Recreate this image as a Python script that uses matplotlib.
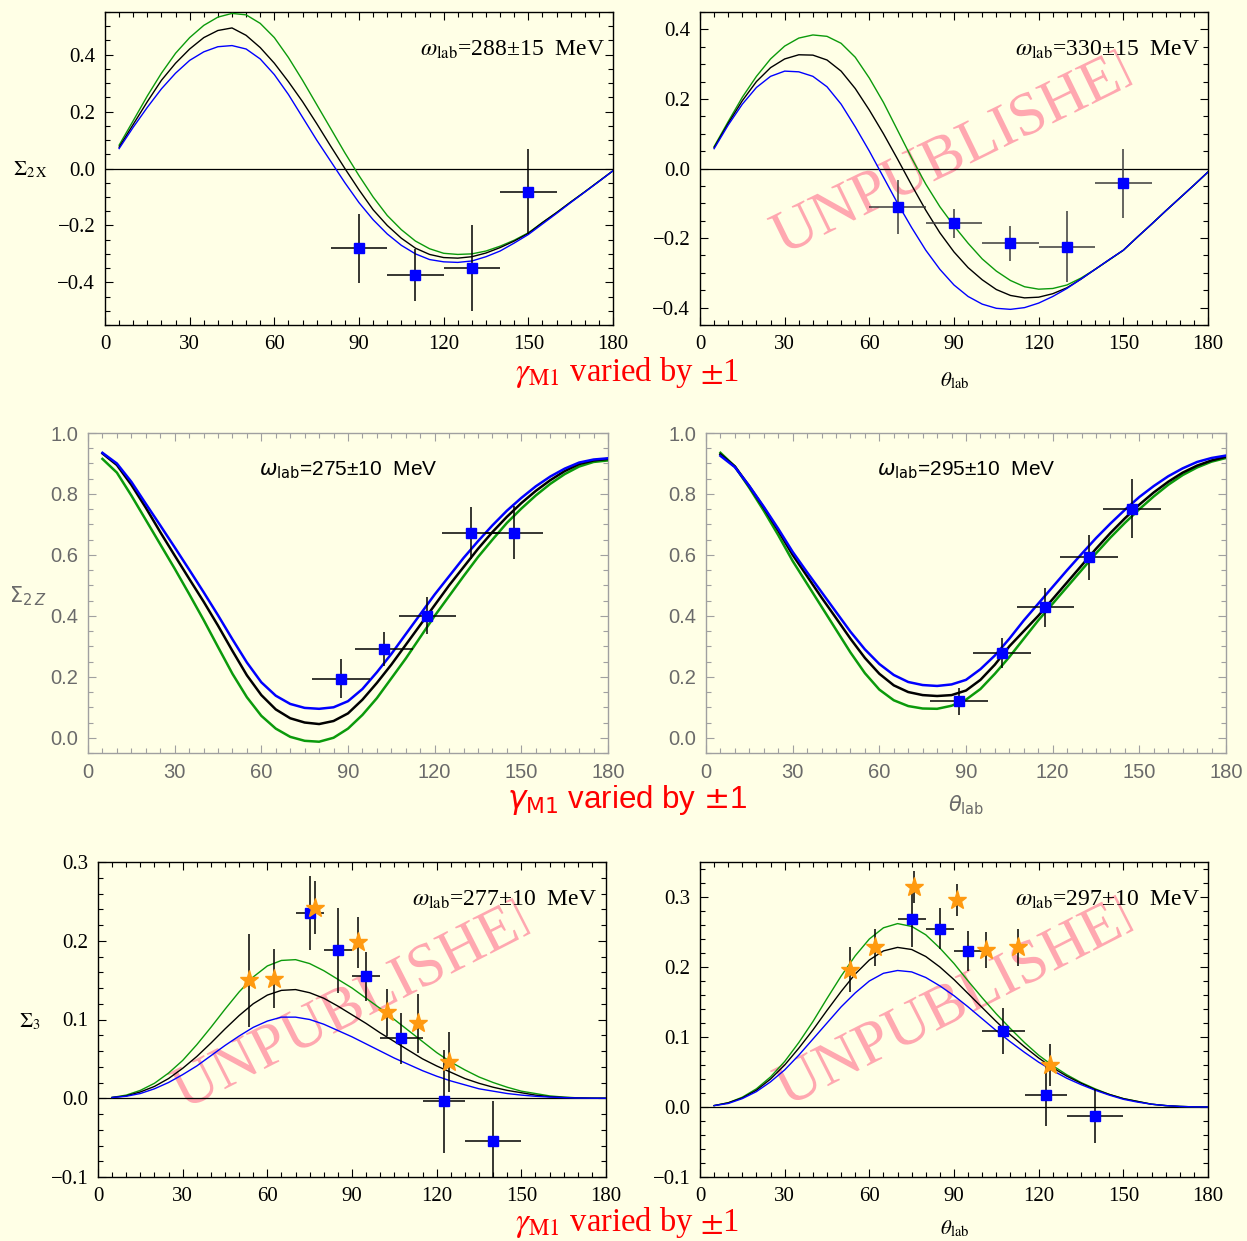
import matplotlib
matplotlib.use('Agg')
import matplotlib.pyplot as plt
from matplotlib.patches import Polygon, PathPatch
from matplotlib.transforms import IdentityTransform, Affine2D
from matplotlib.textpath import TextPath
from matplotlib.font_manager import FontProperties
from matplotlib.ticker import MultipleLocator, FixedLocator
import numpy as np

W, H = 1247, 1241
BG = '#FFFFE6'
GREEN = '#0B9A0B'
BLUE = '#0000FF'
STAR = '#FF9A10'
WM = '#FFA8B0'

theta = [5, 10, 15, 20, 25, 30, 35, 40, 45, 50, 55, 60, 65, 70, 75, 80, 85, 90,
         95, 100, 105, 110, 115, 120, 125, 130, 135, 140, 145, 150, 155, 160, 165, 170, 175, 180]

# ---------------- panel 1 : Sigma_2x, 288 MeV ----------------
p1_black = [0.075, 0.155, 0.235, 0.31, 0.37, 0.42, 0.46, 0.485, 0.494, 0.468, 0.425, 0.37, 0.305, 0.235,
            0.158, 0.078, 0.0, -0.075, -0.145, -0.2, -0.245, -0.28, -0.302, -0.313, -0.315, -0.31, -0.297,
            -0.278, -0.255, -0.228, -0.19, -0.155, -0.118, -0.082, -0.045, -0.008]
p1_green = [0.082, 0.168, 0.255, 0.335, 0.405, 0.46, 0.503, 0.532, 0.545, 0.54, 0.51, 0.46, 0.39, 0.31,
            0.225, 0.14, 0.055, -0.025, -0.1, -0.165, -0.215, -0.255, -0.282, -0.298, -0.302, -0.3, -0.29,
            -0.273, -0.252, -0.226, -0.19, -0.155, -0.118, -0.082, -0.045, -0.008]
p1_blue = [0.07, 0.145, 0.215, 0.28, 0.335, 0.38, 0.41, 0.428, 0.432, 0.42, 0.385, 0.33, 0.26, 0.18,
           0.1, 0.025, -0.05, -0.12, -0.18, -0.23, -0.27, -0.3, -0.32, -0.328, -0.33, -0.325, -0.31,
           -0.29, -0.262, -0.232, -0.195, -0.158, -0.12, -0.083, -0.046, -0.008]
p1_x = [90, 110, 130, 150]
p1_y = [-0.281, -0.375, -0.350, -0.082]
p1_yerr = [0.122, 0.092, 0.152, 0.149]
p1_xerr = [10, 10, 10, 10]

# ---------------- panel 2 : Sigma_2x, 330 MeV ----------------
p2_black = [0.06, 0.13, 0.195, 0.25, 0.29, 0.315, 0.327, 0.326, 0.312, 0.28, 0.23, 0.168, 0.1, 0.027,
            -0.048, -0.12, -0.185, -0.24, -0.285, -0.32, -0.348, -0.365, -0.372, -0.37, -0.36, -0.343,
            -0.318, -0.29, -0.262, -0.235, -0.197, -0.16, -0.122, -0.085, -0.048, -0.01]
p2_green = [0.063, 0.135, 0.205, 0.265, 0.315, 0.352, 0.375, 0.384, 0.38, 0.36, 0.32, 0.26, 0.19, 0.11,
            0.03, -0.045, -0.11, -0.165, -0.215, -0.26, -0.295, -0.322, -0.34, -0.347, -0.345, -0.335,
            -0.315, -0.29, -0.263, -0.235, -0.197, -0.16, -0.122, -0.085, -0.048, -0.01]
p2_blue = [0.057, 0.125, 0.185, 0.233, 0.265, 0.28, 0.278, 0.265, 0.235, 0.185, 0.12, 0.05, -0.025, -0.1,
           -0.17, -0.235, -0.29, -0.335, -0.368, -0.39, -0.402, -0.405, -0.4, -0.387, -0.368, -0.345,
           -0.318, -0.29, -0.262, -0.235, -0.197, -0.16, -0.122, -0.085, -0.048, -0.01]
p2_x = [70, 90, 110, 130, 150]
p2_y = [-0.110, -0.158, -0.215, -0.225, -0.043]
p2_yerr = [0.077, 0.041, 0.051, 0.102, 0.100]
p2_xerr = [10, 10, 10, 10, 10]

# ---------------- panel 3 : Sigma_2z, 275 MeV ----------------
p3_black = [0.933, 0.895, 0.83, 0.755, 0.675, 0.598, 0.522, 0.447, 0.368, 0.285, 0.205, 0.14, 0.093, 0.064,
            0.05, 0.045, 0.055, 0.08, 0.125, 0.18, 0.24, 0.305, 0.37, 0.435, 0.5, 0.56, 0.62, 0.675,
            0.725, 0.77, 0.81, 0.845, 0.875, 0.898, 0.91, 0.915]
p3_green = [0.915, 0.87, 0.795, 0.715, 0.635, 0.555, 0.472, 0.387, 0.298, 0.21, 0.133, 0.072, 0.03, 0.003,
            -0.01, -0.013, 0.0, 0.03, 0.075, 0.13, 0.195, 0.26, 0.33, 0.4, 0.465, 0.53, 0.593, 0.65,
            0.705, 0.752, 0.795, 0.833, 0.865, 0.89, 0.905, 0.91]
p3_blue = [0.935, 0.9, 0.84, 0.768, 0.697, 0.625, 0.552, 0.478, 0.402, 0.323, 0.247, 0.182, 0.138, 0.111,
           0.098, 0.095, 0.1, 0.12, 0.16, 0.215, 0.275, 0.34, 0.405, 0.47, 0.53, 0.59, 0.645, 0.697,
           0.745, 0.787, 0.825, 0.857, 0.883, 0.903, 0.913, 0.917]
p3_x = [87.5, 102.5, 117.5, 132.5, 147.5]
p3_y = [0.194, 0.292, 0.401, 0.672, 0.672]
p3_yerr = [0.063, 0.055, 0.062, 0.086, 0.087]
p3_xerr = [10, 10, 10, 10, 10]

# ---------------- panel 4 : Sigma_2z, 295 MeV ----------------
p4_black = [0.93, 0.89, 0.825, 0.755, 0.68, 0.6, 0.53, 0.46, 0.393, 0.325, 0.262, 0.21, 0.172, 0.15,
            0.14, 0.137, 0.14, 0.155, 0.19, 0.24, 0.3, 0.35, 0.4, 0.455, 0.51, 0.565, 0.62, 0.672,
            0.72, 0.765, 0.805, 0.84, 0.87, 0.893, 0.91, 0.922]
p4_green = [0.935, 0.89, 0.82, 0.745, 0.665, 0.58, 0.505, 0.43, 0.355, 0.28, 0.212, 0.158, 0.123, 0.104,
            0.096, 0.095, 0.105, 0.125, 0.16, 0.21, 0.265, 0.325, 0.385, 0.44, 0.495, 0.55, 0.605, 0.657,
            0.705, 0.75, 0.792, 0.83, 0.862, 0.887, 0.906, 0.918]
p4_blue = [0.925, 0.888, 0.826, 0.758, 0.686, 0.61, 0.543, 0.478, 0.413, 0.348, 0.29, 0.242, 0.206, 0.183,
           0.173, 0.17, 0.175, 0.19, 0.225, 0.27, 0.325, 0.385, 0.44, 0.495, 0.55, 0.603, 0.655, 0.703,
           0.748, 0.79, 0.826, 0.858, 0.884, 0.905, 0.918, 0.926]
p4_x = [87.5, 102.5, 117.5, 132.5, 147.5]
p4_y = [0.120, 0.278, 0.428, 0.592, 0.752]
p4_yerr = [0.044, 0.049, 0.063, 0.074, 0.098]
p4_xerr = [10, 10, 10, 10, 10]

# ---------------- panel 5 : Sigma_3, 277 MeV ----------------
p5_black = [0.001, 0.003, 0.008, 0.015, 0.025, 0.038, 0.053, 0.07, 0.088, 0.105, 0.12, 0.131, 0.137, 0.138,
            0.134, 0.127, 0.117, 0.106, 0.095, 0.083, 0.072, 0.061, 0.05, 0.041, 0.033, 0.025, 0.019,
            0.014, 0.01, 0.007, 0.004, 0.002, 0.001, 0.0004, 0.0001, 0.0]
p5_green = [0.001, 0.004, 0.01, 0.019, 0.032, 0.048, 0.068, 0.09, 0.113, 0.135, 0.154, 0.168, 0.175, 0.176,
            0.171, 0.162, 0.151, 0.14, 0.127, 0.114, 0.1, 0.086, 0.072, 0.058, 0.046, 0.036, 0.027,
            0.02, 0.014, 0.009, 0.006, 0.003, 0.0015, 0.0005, 0.0001, 0.0]
p5_blue = [0.001, 0.0025, 0.006, 0.012, 0.02, 0.03, 0.041, 0.054, 0.067, 0.079, 0.09, 0.098, 0.103, 0.103,
           0.1, 0.094, 0.086, 0.078, 0.069, 0.06, 0.051, 0.043, 0.035, 0.028, 0.022, 0.017, 0.012,
           0.009, 0.006, 0.004, 0.0025, 0.0015, 0.0008, 0.0003, 0.0001, 0.0]
p5_x = [75, 85, 95, 107.5, 122.5, 140]
p5_y = [0.235, 0.188, 0.155, 0.076, -0.004, -0.054]
p5_yerr = [0.047, 0.054, 0.031, 0.032, 0.065, 0.050]
p5_xerr = [5, 5, 5, 7.5, 7.5, 10]
p5_sx = [53.5, 62.5, 77, 92, 102.5, 113.5, 124.5]
p5_sy = [0.150, 0.152, 0.242, 0.198, 0.109, 0.095, 0.046]
p5_syerr = [0.059, 0.038, 0.034, 0.032, 0.030, 0.037, 0.038]

# ---------------- panel 6 : Sigma_3, 297 MeV ----------------
p6_black = [0.002, 0.006, 0.013, 0.024, 0.04, 0.06, 0.084, 0.11, 0.138, 0.165, 0.19, 0.21, 0.223, 0.228,
            0.225, 0.215, 0.2, 0.182, 0.162, 0.142, 0.122, 0.103, 0.086, 0.07, 0.056, 0.044, 0.034,
            0.025, 0.018, 0.012, 0.008, 0.004, 0.002, 0.0008, 0.0002, 0.0]
p6_green = [0.002, 0.006, 0.014, 0.026, 0.043, 0.065, 0.092, 0.122, 0.155, 0.187, 0.216, 0.24, 0.256, 0.262,
            0.258, 0.246, 0.227, 0.205, 0.18, 0.156, 0.133, 0.112, 0.092, 0.074, 0.059, 0.046, 0.035,
            0.026, 0.018, 0.012, 0.008, 0.004, 0.002, 0.0008, 0.0002, 0.0]
p6_blue = [0.002, 0.005, 0.012, 0.022, 0.036, 0.053, 0.074, 0.097, 0.12, 0.143, 0.163, 0.18, 0.191, 0.195,
           0.193, 0.185, 0.173, 0.159, 0.143, 0.126, 0.109, 0.093, 0.078, 0.064, 0.052, 0.041, 0.032,
           0.024, 0.017, 0.011, 0.007, 0.004, 0.002, 0.0008, 0.0002, 0.0]
p6_x = [75, 85, 95, 107.5, 122.5, 140]
p6_y = [0.269, 0.255, 0.223, 0.109, 0.017, -0.013]
p6_yerr = [0.040, 0.029, 0.028, 0.033, 0.044, 0.039]
p6_xerr = [5, 5, 5, 7.5, 7.5, 10]
p6_sx = [53, 62, 76, 91, 101.5, 112.5, 124]
p6_sy = [0.196, 0.228, 0.314, 0.296, 0.224, 0.228, 0.060]
p6_syerr = [0.032, 0.026, 0.023, 0.023, 0.026, 0.026, 0.030]

x_ticks = [0, 30, 60, 90, 120, 150, 180]
energies = ['288\u00b115', '330\u00b115', '275\u00b110', '295\u00b110', '277\u00b110', '297\u00b110']

SERIF = 'Liberation Serif'
SANS = 'Liberation Sans'

fig = plt.figure(figsize=(W / 100, H / 100), dpi=100)
fig.patch.set_facecolor(BG)


def make_axes(px_left, px_top, px_right, px_bottom):
    return fig.add_axes([px_left / W, 1 - px_bottom / H, (px_right - px_left) / W, (px_bottom - px_top) / H])


def fmt(v):
    s = '%.1f' % v
    if s.startswith('-'):
        s = '\u2212' + s[1:]
    return s


def style(ax, sans, ylim, yticks, yminor):
    ax.set_facecolor(BG)
    ax.set_xlim(0, 180)
    ax.set_ylim(*ylim)
    ax.xaxis.set_major_locator(FixedLocator(x_ticks))
    ax.xaxis.set_minor_locator(MultipleLocator(5))
    ax.yaxis.set_major_locator(FixedLocator(yticks))
    ax.yaxis.set_minor_locator(MultipleLocator(yminor))
    ax.set_xticklabels([str(t) for t in x_ticks])
    ax.set_yticklabels([fmt(t) for t in yticks])
    fc = '#6a6a6a' if sans else 'black'
    ec = '#a0a0a0' if sans else 'black'
    fam = SANS if sans else SERIF
    ax.tick_params(which='both', direction='in', top=True, right=True, color=ec, labelcolor=fc,
                   labelsize=14.5 if sans else 15, width=0.8)
    ax.tick_params(which='major', length=6, pad=7)
    ax.tick_params(which='minor', length=3.5)
    for lab in ax.get_xticklabels() + ax.get_yticklabels():
        lab.set_family(fam)
    for sp in ax.spines.values():
        sp.set_color(ec)
        sp.set_linewidth(1.0)


def draw_curves(ax, g, k, b, lw):
    for ys, c in ((g, GREEN), (k, 'black'), (b, BLUE)):
        ax.plot(theta, ys, color=c, lw=lw, zorder=3, solid_joinstyle='round')


def draw_data(ax, x, y, xerr, yerr, ms=7.5, ecol='black'):
    ax.errorbar(x, y, xerr=xerr, yerr=yerr, fmt='none', ecolor=ecol, elinewidth=1.1, capsize=0, zorder=4)
    ax.plot(x, y, 's', color=BLUE, ms=ms, zorder=5)


def draw_stars(ax, x, y, yerr):
    ax.errorbar(x, y, yerr=yerr, fmt='none', ecolor='black', elinewidth=1.1, capsize=0, zorder=4)
    ax.plot(x, y, '*', color=STAR, ms=14, mec=STAR, zorder=6)


WM_FONT = FontProperties(family=SERIF)


def watermark(ax, sx, sy, ang, L=389, size=61):
    a = np.deg2rad(ang)
    x0, y0 = sx, H - sy
    d = np.array([np.cos(a), np.sin(a)])
    n = np.array([-np.sin(a), np.cos(a)])
    s = np.array([x0, y0])
    poly = np.array([s - 30 * d - 120 * n, s + L * d - 120 * n, s + L * d + 120 * n, s - 30 * d + 120 * n])
    clip = Polygon(poly, closed=True, transform=IdentityTransform())
    tp = TextPath((0, 0), 'UNPUBLISHED', size=size, prop=WM_FONT)
    tr = Affine2D().rotate_deg(ang).translate(x0, y0)
    patch = PathPatch(tp, transform=tr, facecolor=WM, edgecolor='none', zorder=1)
    ax.add_artist(patch)
    patch.set_clip_path(clip)


def omega_text(x, y, e, sans, ha='right'):
    if sans:
        fig.text(x / W, 1 - y / H, r'$\omega_{\mathrm{lab}}$=' + e + '  MeV', family=SANS, fontsize=15,
                 math_fontfamily='dejavusans', ha=ha, va='center', color='black')
    else:
        fig.text(x / W, 1 - y / H, r'$\omega_{\mathrm{lab}}$=' + e + '  MeV', family=SERIF, fontsize=17,
                 math_fontfamily='stix', ha=ha, va='center', color='black')


# ---------- row 1 ----------
ax1 = make_axes(105, 12, 613, 325)
style(ax1, False, (-0.55, 0.55), [-0.4, -0.2, 0.0, 0.2, 0.4], 0.05)
ax1.axhline(0, color='black', lw=0.9, zorder=2)
draw_curves(ax1, p1_green, p1_black, p1_blue, 1.0)
draw_data(ax1, p1_x, p1_y, p1_xerr, p1_yerr)
omega_text(605, 50, energies[0], False)

ax2 = make_axes(700, 12, 1208, 325)
style(ax2, False, (-0.45, 0.45), [-0.4, -0.2, 0.0, 0.2, 0.4], 0.05)
ax2.axhline(0, color='black', lw=0.9, zorder=2)
watermark(ax2, 783, 255, 26)
draw_curves(ax2, p2_green, p2_black, p2_blue, 1.0)
draw_data(ax2, p2_x, p2_y, p2_xerr, p2_yerr, ecol='#3a3a3a')
omega_text(1200, 50, energies[1], False)

fig.text(30 / W, 1 - 170 / H, r'$\Sigma_{2\,\mathrm{X}}$', fontsize=15, math_fontfamily='stix',
         ha='center', va='center')
fig.text(627 / W, 1 - 372 / H, r'$\gamma_{\mathrm{M1}}$ varied by $\pm$1', family=SERIF, fontsize=23.5,
         math_fontfamily='stix', color='red', ha='center', va='center')
fig.text(955 / W, 1 - 381 / H, r'$\theta_{\mathrm{lab}}$', fontsize=15, math_fontfamily='stix',
         ha='center', va='center')

# ---------- row 2 ----------
ax3 = make_axes(88, 433, 608, 753)
style(ax3, True, (-0.05, 1.0), [0.0, 0.2, 0.4, 0.6, 0.8, 1.0], 0.05)
draw_curves(ax3, p3_green, p3_black, p3_blue, 1.8)
draw_data(ax3, p3_x, p3_y, p3_xerr, p3_yerr, ms=7)
omega_text(348, 470, energies[2], True, ha='center')

ax4 = make_axes(706, 433, 1226, 753)
style(ax4, True, (-0.05, 1.0), [0.0, 0.2, 0.4, 0.6, 0.8, 1.0], 0.05)
draw_curves(ax4, p4_green, p4_black, p4_blue, 1.8)
draw_data(ax4, p4_x, p4_y, p4_xerr, p4_yerr, ms=7)
omega_text(966, 470, energies[3], True, ha='center')

fig.text(28 / W, 1 - 596 / H, r'$\Sigma_{2\,Z}$', fontsize=15, math_fontfamily='dejavusans',
         color='#6a6a6a', ha='center', va='center')
fig.text(627 / W, 1 - 800 / H, r'$\gamma_{\mathrm{M1}}$ varied by $\pm$1', family=SANS, fontsize=22.5,
         math_fontfamily='dejavusans', color='red', ha='center', va='center')
fig.text(966 / W, 1 - 805 / H, r'$\theta_{\mathrm{lab}}$', fontsize=15, math_fontfamily='dejavusans',
         color='#6a6a6a', ha='center', va='center')

# ---------- row 3 ----------
ax5 = make_axes(98, 862, 606, 1177)
style(ax5, False, (-0.1, 0.3), [-0.1, 0.0, 0.1, 0.2, 0.3], 0.02)
ax5.axhline(0, color='black', lw=0.9, zorder=2)
watermark(ax5, 184, 1110, 27)
draw_curves(ax5, p5_green, p5_black, p5_blue, 1.0)
draw_data(ax5, p5_x, p5_y, p5_xerr, p5_yerr)
draw_stars(ax5, p5_sx, p5_sy, p5_syerr)
omega_text(597, 900, energies[4], False)

ax6 = make_axes(700, 862, 1208, 1177)
style(ax6, False, (-0.1, 0.35), [-0.1, 0.0, 0.1, 0.2, 0.3], 0.02)
ax6.axhline(0, color='black', lw=0.9, zorder=2)
watermark(ax6, 787, 1107, 27)
draw_curves(ax6, p6_green, p6_black, p6_blue, 1.0)
draw_data(ax6, p6_x, p6_y, p6_xerr, p6_yerr)
draw_stars(ax6, p6_sx, p6_sy, p6_syerr)
omega_text(1200, 900, energies[5], False)

fig.text(30 / W, 1 - 1022 / H, r'$\Sigma_3$', fontsize=15, math_fontfamily='stix', ha='center', va='center')
fig.text(627 / W, 1 - 1222 / H, r'$\gamma_{\mathrm{M1}}$ varied by $\pm$1', family=SERIF, fontsize=23.5,
         math_fontfamily='stix', color='red', ha='center', va='center')
fig.text(955 / W, 1 - 1229 / H, r'$\theta_{\mathrm{lab}}$', fontsize=15, math_fontfamily='stix',
         ha='center', va='center')

fig.savefig('out.png', dpi=100, facecolor=BG)
